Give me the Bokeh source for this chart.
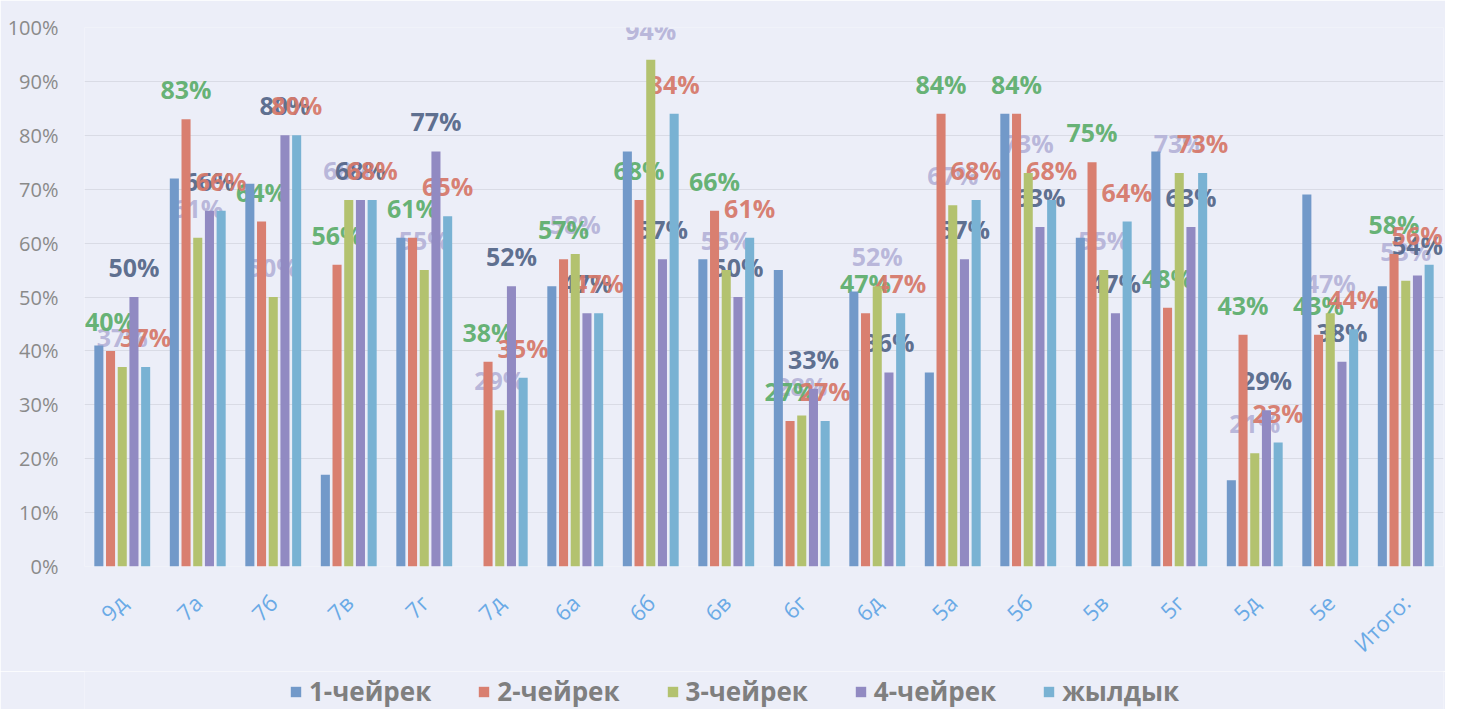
import math
from bokeh.plotting import figure
from bokeh.layouts import column
from bokeh.models import (ColumnDataSource, Legend, LegendItem, FactorRange, Range1d,
                          NumeralTickFormatter, FixedTicker)
from bokeh.transform import dodge
from bokeh.core.properties import value
from bokeh.embed import file_html
from bokeh.resources import INLINE

classes = ["9д", "7а", "7б", "7в", "7г", "7д", "6а", "6б", "6в", "6г", "6д",
           "5а", "5б", "5в", "5г", "5д", "5е", "Итого:"]
q1 = [41, 72, 71, 17, 61, 0, 52, 77, 57, 55, 51, 36, 84, 61, 77, 16, 69, 52]
q2 = [40, 83, 64, 56, 61, 38, 57, 68, 66, 27, 47, 84, 84, 75, 48, 43, 43, 58]
q3 = [37, 61, 50, 68, 55, 29, 58, 94, 55, 28, 52, 67, 73, 55, 73, 21, 47, 53]
q4 = [50, 66, 80, 68, 77, 52, 47, 57, 50, 33, 36, 57, 63, 47, 63, 29, 38, 54]
year = [37, 66, 80, 68, 65, 35, 47, 84, 61, 27, 47, 68, 68, 64, 73, 23, 44, 56]

series_names = ["1-чейрек", "2-чейрек", "3-чейрек", "4-чейрек", "жылдык"]
series_vals = [q1, q2, q3, q4, year]
bar_colors = ["#7299c9", "#d97f70", "#b3c26f", "#918ac2", "#79b2d3"]
offsets = [-0.31, -0.155, 0.0, 0.155, 0.31]
# data-label colours for series 2..5 (as they appear in the picture)
label_colors = {1: "#5fae6e", 2: "#b6b4d8", 3: "#56688a", 4: "#d6796b"}
label_order = [2, 3, 1, 4]

bg = "#eceef8"

n = len(classes)
data = dict(cat=classes)
for i, vals in enumerate(series_vals):
    data[f"s{i}"] = [v / 100 for v in vals]
    data[f"l{i}"] = [f"{v}%" for v in vals]
# keep the last (right-most) label inside the canvas
data["xo"] = [0] * (n - 1) + [-12]
src = ColumnDataSource(data)

p = figure(x_range=FactorRange(*classes, range_padding=0), y_range=Range1d(0, 1.0),
           width=1445, height=671, output_backend="svg", toolbar_location=None,
           min_border_left=84, min_border_right=2, min_border_top=27, min_border_bottom=105,
           background_fill_color=bg, border_fill_color=bg, outline_line_color=None)

# data labels (drawn first, bars over them)
for i in label_order:
    p.text(x=dodge("cat", offsets[i], range=p.x_range), y=f"s{i}", text=f"l{i}", source=src,
           text_color=label_colors[i], text_font=value("Open Sans"), text_font_style="bold",
           text_font_size="25px", text_align="center", text_baseline="middle",
           y_offset=-30, x_offset=("xo" if i == 4 else 0), text_alpha=0.95)

for i in range(5):
    p.vbar(x=dodge("cat", offsets[i], range=p.x_range), top=f"s{i}", width=0.12,
           source=src, fill_color=bar_colors[i], line_color=None)

p.yaxis.ticker = FixedTicker(ticks=[i / 10 for i in range(11)])
p.yaxis.formatter = NumeralTickFormatter(format="0%")
p.yaxis.axis_line_color = None
p.yaxis.major_tick_line_color = None
p.yaxis.minor_tick_line_color = None
p.yaxis.major_label_text_color = "#8a8a8a"
p.yaxis.major_label_text_font = "Open Sans"
p.yaxis.major_label_text_font_size = "20px"
p.yaxis.major_label_standoff = 20

p.xaxis.axis_line_color = None
p.xaxis.major_tick_line_color = None
p.xaxis.major_label_orientation = math.pi / 4
p.xaxis.major_label_text_color = "#6aaae6"
p.xaxis.major_label_text_font = "Open Sans"
p.xaxis.major_label_text_font_size = "22px"
p.xaxis.major_label_standoff = 26

p.xgrid.grid_line_color = None
p.ygrid.grid_line_color = "#d9dbe5"
p.ygrid.grid_line_width = 1

# legend strip below the chart (its frame is aligned with the chart's frame)
pl = figure(width=1445, height=38, output_backend="svg", toolbar_location=None,
            x_range=Range1d(0, 1), y_range=Range1d(0, 1),
            x_axis_location=None, y_axis_location=None, min_border=0,
            background_fill_color=bg, border_fill_color=bg, outline_line_color=None)
pl.xgrid.grid_line_color = None
pl.ygrid.grid_line_color = None
# swatch renderers placed outside the visible range; only their legend glyphs show
swatches = [pl.vbar(x=[-10], top=[0], width=0.1, fill_color=c, line_color=None) for c in bar_colors]
legend = Legend(items=[LegendItem(label=n_, renderers=[r]) for n_, r in zip(series_names, swatches)],
                orientation="horizontal", location=(205, 0),
                background_fill_alpha=0, border_line_color=None,
                glyph_width=13, glyph_height=13, label_standoff=7, spacing=46,
                label_height=20, padding=0, margin=0,
                label_text_font="Open Sans", label_text_font_style="bold",
                label_text_font_size="26px", label_text_color="#7f7f7f")
pl.add_layout(legend, "center")

layout = column(p, pl, spacing=0)
open("out.html", "w").write(file_html(layout, INLINE))
